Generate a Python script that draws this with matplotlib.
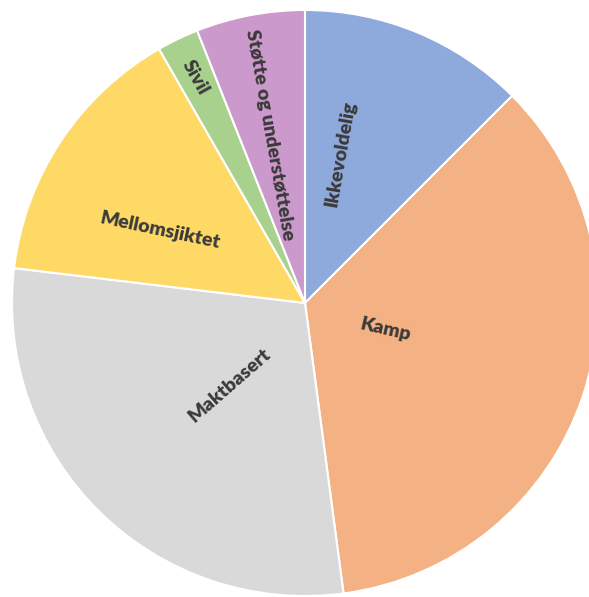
import matplotlib.pyplot as plt

# Share of each category (percent), clockwise from the top
categories = ["Ikkevoldelig", "Kamp", "Maktbasert", "Mellomsjiktet", "Sivil",
              "Støtte og understøttelse"]
shares = [12.5, 35.4, 29.0, 14.8, 2.3, 6.0]
colors = ["#8EA9DB", "#F4B183", "#D9D9D9", "#FFD966", "#A9D18E", "#CC99CC"]

# label placement (x, y in pie units) and rotation
label_pos = [(0.123, 0.509), (0.276, -0.092), (-0.256, -0.280),
             (-0.495, 0.249), (-0.375, 0.771), (-0.119, 0.573)]
label_rot = [80, -13, 41, -12, -61, -80]

W, H = 589, 597
cx, cy, r = 305, 303, 293

fig = plt.figure(figsize=(W / 100, H / 100), dpi=100)
ax = fig.add_axes([0, 0, 1, 1])
ax.pie(shares, colors=colors, startangle=90, counterclock=False, radius=1.0,
       wedgeprops=dict(edgecolor="white", linewidth=1.5))

for name, (x, y), rot in zip(categories, label_pos, label_rot):
    ax.text(x, y, name, rotation=rot, ha="center", va="center",
            rotation_mode="anchor", fontsize=14, fontweight="heavy",
            color="#3A3A3A", family="Lato")

ax.set_xlim(-cx / r, (W - cx) / r)
ax.set_ylim(-(H - cy) / r, cy / r)
ax.set_aspect("auto")
ax.axis("off")

fig.savefig("out.png", dpi=100, facecolor="white")
